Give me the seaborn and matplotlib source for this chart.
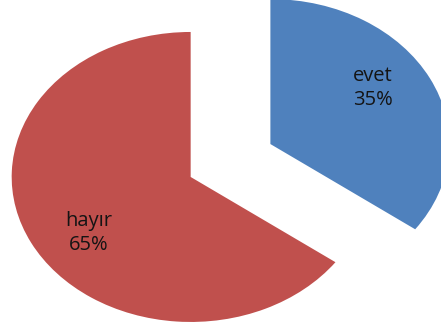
import matplotlib
matplotlib.use("Agg")
import matplotlib.pyplot as plt
import seaborn as sns
import numpy as np

categories = ["evet", "hayır"]
values = [35, 65]
colors = ["#4F81BD", "#C0504D"]

sns.set_theme(style="white")
plt.rcParams['font.family'] = ['Open Sans', 'DejaVu Sans']

fig = plt.figure(figsize=(4.41, 3.29), dpi=100)
ax = fig.add_axes([0, 0, 1, 1])

labels = [f"{c}\n{v}%" for c, v in zip(categories, values)]
wedges, texts = ax.pie(values, colors=colors, startangle=90, counterclock=False,
                       explode=[0.25, 0.25], labels=labels, labeldistance=0.7,
                       wedgeprops=dict(linewidth=0),
                       textprops=dict(fontsize=14.5, color="#141414", linespacing=1.3))

# nudge labels slightly counter-clockwise around their slice, like the original
for w, t in zip(wedges, texts):
    mid = np.deg2rad((w.theta1 + w.theta2) / 2 + 7)
    cx, cy = w.center
    r = 0.69
    t.set_position((cx + r * np.cos(mid), cy + r * np.sin(mid)))
    t.set_ha("center")
    t.set_va("center")

ax.set_aspect("auto")
ax.set_xlim(-1.288, 1.176)
ax.set_ylim(-1.162, 1.107)
ax.axis("off")

fig.savefig("out.png", dpi=100)
